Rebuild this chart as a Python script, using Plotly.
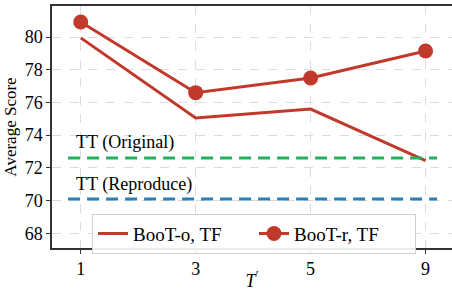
import plotly.graph_objects as go

categories = ["1", "3", "5", "9"]
boot_o = [79.95, 75.05, 75.6, 72.45]
boot_r = [80.92, 76.6, 77.5, 79.15]
tt_original = 72.6
tt_reproduce = 70.1
y_ticks = [68, 70, 72, 74, 76, 78, 80]

RED = "#c0392b"
GREEN = "#27ae60"
BLUE = "#2980b9"
FONT = "'Times New Roman', 'Liberation Serif', 'DejaVu Serif', serif"

fig = go.Figure()
fig.add_trace(go.Scatter(x=categories, y=boot_o, mode="lines", name="BooT-o, TF",
                         line=dict(color=RED, width=3)))
fig.add_trace(go.Scatter(x=categories, y=boot_r, mode="lines+markers", name="BooT-r, TF",
                         line=dict(color=RED, width=3), marker=dict(color=RED, size=15)))

for val, col in [(tt_original, GREEN), (tt_reproduce, BLUE)]:
    fig.add_shape(type="line", x0=-0.11, x1=3.1, y0=val, y1=val, xref="x", yref="y",
                  line=dict(color=col, width=3, dash="12px,7px"), layer="above")

fig.add_annotation(x=-0.06, y=73.55, xref="x", yref="y", text="TT (Original)", showarrow=False,
                   xanchor="left", yanchor="middle", font=dict(family=FONT, size=18, color="black"))
fig.add_annotation(x=-0.06, y=71.0, xref="x", yref="y", text="TT (Reproduce)", showarrow=False,
                   xanchor="left", yanchor="middle", font=dict(family=FONT, size=18, color="black"))

fig.update_layout(
    width=452, height=291,
    margin=dict(l=52, r=0, t=6, b=43),
    paper_bgcolor="white", plot_bgcolor="white",
    font=dict(family=FONT, size=17, color="black"),
    showlegend=True,
    legend=dict(orientation="h", x=0.1, y=0.142, xanchor="left", yanchor="top",
                bgcolor="rgba(255,255,255,0.9)", bordercolor="#d0d0d0", borderwidth=1,
                font=dict(family=FONT, size=19), entrywidth=116, tracegroupgap=0),
    xaxis=dict(type="category", range=[-0.25, 3.23], showgrid=True, gridcolor="#dcdcdc",
               griddash="dash", gridwidth=1, showline=True, linecolor="#333", linewidth=1.5,
               mirror=True, ticks="outside", ticklen=4, tickcolor="#333",
               title=dict(text="<i>T</i><sup>′</sup>", font=dict(family=FONT, size=18), standoff=2),
               tickfont=dict(family=FONT, size=18), zeroline=False, automargin=False),
    yaxis=dict(range=[67.1, 81.9], tickvals=y_ticks, showgrid=True, gridcolor="#dcdcdc",
               griddash="dash", gridwidth=1, showline=True, linecolor="#333", linewidth=1.5,
               ticks="outside", ticklen=4, tickcolor="#333",
               title=dict(text="Average Score", font=dict(family=FONT, size=17), standoff=4),
               tickfont=dict(family=FONT, size=18), zeroline=False, automargin=False),
)

fig.write_html("out.html", config={"displayModeBar": False},
               post_script="document.body.style.margin='0';document.body.style.overflow='hidden';")
